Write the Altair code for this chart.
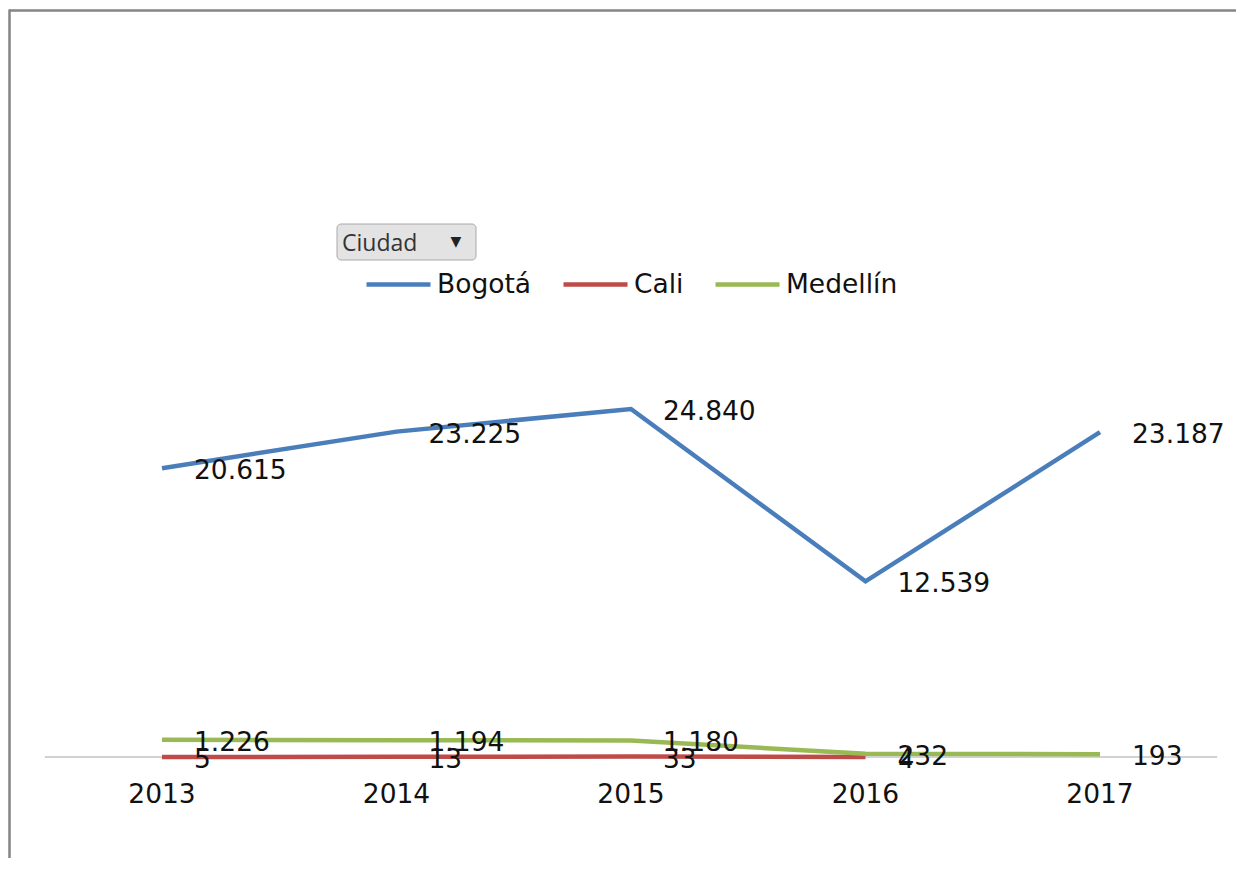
import altair as alt
import pandas as pd

years = [2013, 2014, 2015, 2016, 2017]
cities = ["Bogotá", "Cali", "Medellín"]
bogota = [20615, 23225, 24840, 12539, 23187]
cali = [5, 13, 33, 4, None]
medellin = [1226, 1194, 1180, 232, 193]
colors = ["#4A7EBB", "#BE4B48", "#98B954"]

rows = []
for city, vals in zip(cities, [bogota, cali, medellin]):
    for y, v in zip(years, vals):
        if v is None:
            continue
        rows.append({"year": y, "ciudad": city, "value": v,
                     "label": f"{v:,}".replace(",", ".")})
df = pd.DataFrame(rows)

ticks_df = pd.DataFrame({"year": years, "y0": [0] * len(years),
                         "txt": [str(y) for y in years]})
axis_span = pd.DataFrame({"x0": [2012.5], "x1": [2017.5], "y0": [0]})

FONT = "DejaVu Sans"
FS = 26.5
TXT = "#111111"
xscale = alt.Scale(domain=[2013, 2017], range=[154, 1092])
yscale = alt.Scale(domain=[0, 24840], range=[749, 401])

lines = alt.Chart(df).mark_line(strokeWidth=4.5).encode(
    x=alt.X("year:Q", scale=xscale, axis=None),
    y=alt.Y("value:Q", scale=yscale, axis=None),
    color=alt.Color("ciudad:N",
                    scale=alt.Scale(domain=cities, range=colors),
                    legend=alt.Legend(orient="none", legendX=356, legendY=242,
                                      direction="horizontal", title=None,
                                      symbolType="stroke", symbolSize=4096,
                                      symbolStrokeWidth=4.5, labelFont=FONT,
                                      labelFontSize=FS, labelColor=TXT,
                                      labelOffset=4, columnPadding=22)),
)

baseline = alt.Chart(axis_span).mark_rule(color="#a6a6a6", strokeWidth=1.2).encode(
    x=alt.X("x0:Q", scale=xscale, axis=None), x2="x1:Q",
    y=alt.Y("y0:Q", scale=yscale, axis=None),
)

year_labels = alt.Chart(ticks_df).mark_text(
    align="center", baseline="top", dy=25, font=FONT, fontSize=FS, color=TXT
).encode(
    x=alt.X("year:Q", scale=xscale, axis=None),
    y=alt.Y("y0:Q", scale=yscale, axis=None),
    text="txt:N",
)

labels = alt.Chart(df).mark_text(align="left", baseline="middle", dx=32, dy=3,
                                 font=FONT, fontSize=FS, color=TXT).encode(
    x=alt.X("year:Q", scale=xscale, axis=None),
    y=alt.Y("value:Q", scale=yscale, axis=None),
    text="label:N",
)

one = pd.DataFrame({"a": [0]})
frame_top = alt.Chart(one).mark_rule(color="#858585", strokeWidth=2.5).encode(
    x=alt.value(1), x2=alt.value(1228), y=alt.value(2.5))
frame_left = alt.Chart(one).mark_rule(color="#858585", strokeWidth=2.5).encode(
    x=alt.value(1.5), y=alt.value(1.5), y2=alt.value(850))

button = alt.Chart(one).mark_rect(
    cornerRadius=4, fill="#e3e3e3", stroke="#a9a9a9", strokeWidth=1
).encode(x=alt.value(329), x2=alt.value(468), y=alt.value(216), y2=alt.value(252))
button_text = alt.Chart(one).mark_text(
    text="Ciudad", align="left", baseline="alphabetic", font="Open Sans",
    fontSize=23, color="#333333"
).encode(x=alt.value(334), y=alt.value(243))
button_arrow = alt.Chart(one).mark_text(
    text="▼", align="center", baseline="middle", font="DejaVu Sans",
    fontSize=14, color="#222222"
).encode(x=alt.value(448), y=alt.value(234))

chart = alt.layer(
    baseline, lines, labels, year_labels, frame_top, frame_left,
    button, button_text, button_arrow
).properties(
    width=1228, height=850, padding=0, background="white",
    autosize=alt.AutoSizeParams(type="none"),
).configure_view(stroke=None)

chart.save("out.html", embed_options={"renderer": "svg", "actions": False})
